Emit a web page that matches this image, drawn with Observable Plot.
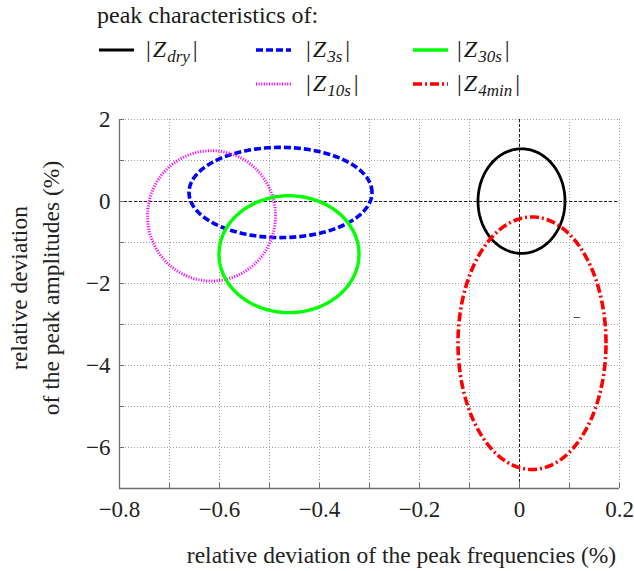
<!DOCTYPE html>
<html><head><meta charset="utf-8">
<script src="https://cdn.jsdelivr.net/npm/d3@7"></script>
<script src="https://cdn.jsdelivr.net/npm/@observablehq/plot@0.6"></script>
<style>
body{margin:0;background:#fff;}
#wrap{width:634px;}
svg{display:block;}
</style></head><body><div id="wrap"></div>
<script>
// ---- data ----
const seriesKeys = ["dry", "3s", "10s", "30s", "4min"];
const centerX = [0.004, -0.478, -0.616, -0.461, 0.025];
const centerY = [0.01, 0.22, -0.35, -1.285, -3.457];
const radiusX = [0.087, 0.183, 0.128, 0.140, 0.148];
const radiusY = [1.275, 1.10, 1.59, 1.425, 3.08];

const xTickValues = [-0.8, -0.6, -0.4, -0.2, 0, 0.2];
const xTickLabels = ["−0.8", "−0.6", "−0.4", "−0.2", "0", "0.2"];
const yTickValues = [-6, -4, -2, 0, 2];
const yTickLabels = ["−6", "−4", "−2", "0", "2"];
const xMinorTicks = [-0.8, -0.7, -0.6, -0.5, -0.4, -0.3, -0.2, -0.1, 0, 0.1, 0.2];
const yMinorTicks = [-7, -6, -5, -4, -3, -2, -1, 0, 1, 2];

const strayX = [0.115];
const strayY = [-2.82];
const strayText = ["−"];

const legendTitle = "peak characteristics of:";
const xLabel = "relative deviation of the peak frequencies (%)";
const yLabel = "relative deviation\nof the peak amplitudes (%)";

// ---- styles ----
const styles = {
  "dry":  {stroke: "#000000", width: 2.8, dash: null},
  "3s":   {stroke: "#0000ff", width: 3.6, dash: "7,3"},
  "10s":  {stroke: "#ff00ff", width: 3.0, dash: "1.1,1.5"},
  "30s":  {stroke: "#00ff00", width: 3.4, dash: null},
  "4min": {stroke: "#ff0000", width: 3.6, dash: "9,3,2,3"}
};
const FONT = "'Liberation Serif', 'Times New Roman', serif";

// ---- legend (plain svg above the plot) ----
const legendLayout = {
  "dry":  {row: 0, col: 0}, "3s": {row: 0, col: 1}, "30s": {row: 0, col: 2},
  "10s":  {row: 1, col: 1}, "4min": {row: 1, col: 2}
};
const colLineX = [99, 256, 413], colTextX = [146, 306, 457];
const rowLineY = [50, 84], rowBase = [57, 91];

const leg = d3.create("svg").attr("width", 634).attr("height", 100)
  .attr("font-family", FONT).attr("fill", "#1a1a1a");
leg.append("text").attr("x", 97).attr("y", 23).attr("font-size", 24).text(legendTitle);
for (const k of seriesKeys) {
  const {row, col} = legendLayout[k];
  const s = styles[k];
  leg.append("line").attr("x1", colLineX[col]).attr("x2", colLineX[col] + 35)
    .attr("y1", rowLineY[row]).attr("y2", rowLineY[row])
    .attr("stroke", s.stroke).attr("stroke-width", s.width)
    .attr("stroke-dasharray", s.dash);
  const t = leg.append("text").attr("x", colTextX[col]).attr("y", rowBase[row]).attr("font-size", 24);
  t.append("tspan").text("|");
  t.append("tspan").attr("dx", 2).attr("font-style", "italic").text("Z");
  t.append("tspan").attr("dx", 1).attr("dy", 5).attr("font-size", 17).attr("font-style", "italic").text(k);
  t.append("tspan").attr("dx", 3).attr("dy", -5).text("|");
}
document.getElementById("wrap").appendChild(leg.node());

// ---- ellipse outlines from the read centres / radii ----
const angles = d3.range(0, 361, 2);
function outline(i) {
  return angles.map(a => {
    const t = a * Math.PI / 180;
    return {x: centerX[i] + radiusX[i] * Math.cos(t), y: centerY[i] + radiusY[i] * Math.sin(t)};
  });
}
const ellipseMarks = seriesKeys.map((k, i) => Plot.line(outline(i), {
  x: "x", y: "y", stroke: styles[k].stroke, strokeWidth: styles[k].width,
  strokeDasharray: styles[k].dash, strokeLinecap: "butt", curve: "linear"
}));

const axisColor = "#6e6e6e";
const plot = Plot.plot({
  width: 634, height: 471,
  marginLeft: 119, marginRight: 15, marginTop: 19, marginBottom: 83,
  x: {domain: [-0.8, 0.2]},
  y: {domain: [-7, 2]},
  style: {fontFamily: FONT, fontSize: "23px", color: "#222", background: "#fff", overflow: "visible"},
  marks: [
    Plot.gridX({ticks: xMinorTicks, stroke: "#a0a0a0", strokeOpacity: 1, strokeDasharray: "1,2"}),
    Plot.gridY({ticks: yMinorTicks, stroke: "#a0a0a0", strokeOpacity: 1, strokeDasharray: "1,2"}),
    Plot.ruleX([0], {stroke: "#222", strokeDasharray: "3,2", strokeWidth: 1}),
    Plot.ruleY([0], {stroke: "#222", strokeDasharray: "3,2", strokeWidth: 1}),
    Plot.ruleX([-0.8], {stroke: axisColor, strokeWidth: 1.3}),
    Plot.ruleY([-7], {stroke: axisColor, strokeWidth: 1.3}),
    Plot.axisX({ticks: xMinorTicks, tickSize: 5, dy: -5, tickFormat: () => "", label: null, stroke: axisColor}),
    Plot.axisY({ticks: yMinorTicks, tickSize: 5, dx: 5, tickFormat: () => "", label: null, stroke: axisColor}),
    Plot.axisX({ticks: xTickValues, tickSize: 0, tickPadding: 12, label: null,
      tickFormat: d => xTickLabels[xTickValues.indexOf(d)]}),
    Plot.axisY({ticks: yTickValues, tickSize: 0, tickPadding: 9, label: null,
      tickFormat: d => yTickLabels[yTickValues.indexOf(d)]}),
    ...ellipseMarks,
    Plot.text(strayText, {x: (d, i) => strayX[i], y: (d, i) => strayY[i], text: d => d, fontSize: 14, fill: "#111"}),
    Plot.text([xLabel], {text: d => d, frameAnchor: "bottom", dx: 32, dy: 74, lineAnchor: "bottom", fontSize: 23.5}),
    Plot.text([yLabel], {text: d => d, frameAnchor: "left", textAnchor: "middle", dx: -61, dy: -16, rotate: -90,
      lineAnchor: "bottom", lineHeight: 1.32, fontSize: 23.5})
  ]
});
document.getElementById("wrap").appendChild(plot);
</script></body></html>
